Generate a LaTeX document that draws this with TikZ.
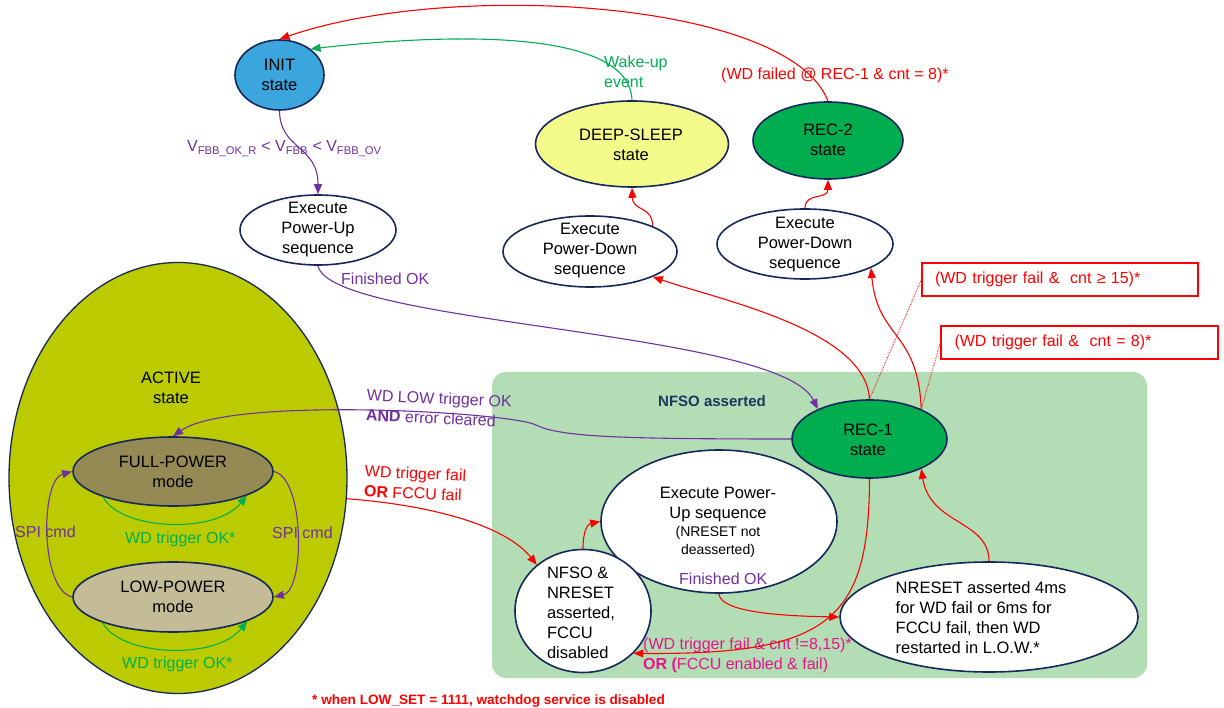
\documentclass[tikz,border=0pt]{standalone}
\usepackage{fontspec}
\setmainfont{Liberation Sans}
\usetikzlibrary{shapes.geometric,arrows.meta}
\definecolor{navyline}{RGB}{20,40,90}
\definecolor{initblue}{RGB}{58,166,221}
\definecolor{sleepyellow}{RGB}{243,250,137}
\definecolor{recgreen}{RGB}{0,173,79}
\definecolor{activeolive}{RGB}{187,203,0}
\definecolor{fullbrown}{RGB}{150,138,84}
\definecolor{lowbeige}{RGB}{196,188,151}
\definecolor{nfsogreen}{RGB}{179,222,181}
\definecolor{nfsotext}{RGB}{23,55,94}
\definecolor{wdpurple}{RGB}{112,48,160}
\definecolor{wdgreen}{RGB}{0,176,80}
\definecolor{wdred}{RGB}{255,0,0}
\definecolor{wdpink}{RGB}{230,20,140}
\begin{document}
\begin{tikzpicture}[x=1pt,y=-1pt,
  stbox/.style={ellipse,draw=navyline,line width=1.6pt},
  sttext/.style={align=center,font=\fontsize{16.5}{20}\selectfont},
  lbl/.style={align=left,font=\fontsize{16}{20}\selectfont},
  tr/.style={line width=1.1pt,-{Triangle[length=10pt,width=8pt]}},
  notebox/.style={draw=wdred,line width=1.3pt,fill=white,minimum height=33pt,inner xsep=13pt,text width=250pt,align=left,font=\fontsize{16}{20}\selectfont,text=wdred}]
  \tikzstyle{every node}+=[inner sep=0pt]
  \useasboundingbox (0,0) rectangle (1224,708);
  \node[fill=nfsogreen,rounded corners=14pt,minimum width=655pt,minimum height=306pt] (nfso) at (819.5,525) {};
  \node[font=\fontsize{15}{18}\selectfont\bfseries,text=nfsotext,anchor=base] (nfsolbl) at (712,407) {NFSO asserted};
  \node[stbox,line width=1.3pt,fill=activeolive,minimum width=338pt,minimum height=431pt] (active) at (178,478) {};
  \node[sttext] (activetxt) at (171,388) {ACTIVE\\state};
  \node[stbox,fill=fullbrown,minimum width=200pt,minimum height=69pt] (fp) at (173,471.5) {};
  \node[sttext] (fptxt) at (173,472) {FULL-POWER\\mode};
  \node[stbox,fill=lowbeige,minimum width=200pt,minimum height=70pt] (lp) at (173,597) {};
  \node[sttext] (lptxt) at (173,597) {LOW-POWER\\mode};
  \node[stbox,fill=initblue,minimum width=89pt,minimum height=70pt] (init) at (279.5,75) {};
  \node[sttext] (inittxt) at (279.5,75) {INIT\\state};
  \node[stbox,fill=white,minimum width=156pt,minimum height=70pt] (pu) at (318,230) {};
  \node[sttext] (putxt) at (318,230) {Execute\\Power-Up\\sequence};
  \node[stbox,fill=sleepyellow,minimum width=193pt,minimum height=86pt] (ds) at (632,144) {};
  \node[sttext] (dstxt) at (631,145) {DEEP-SLEEP\\state};
  \node[stbox,fill=recgreen,minimum width=150pt,minimum height=77pt] (rec2) at (828,140.5) {};
  \node[sttext] (rec2txt) at (828,140) {REC-2\\state};
  \node[stbox,fill=white,minimum width=174pt,minimum height=71pt] (pdl) at (590,251.5) {};
  \node[sttext] (pdltxt) at (590,251) {Execute\\Power-Down\\sequence};
  \node[stbox,fill=white,minimum width=176pt,minimum height=70pt] (pdr) at (805,244) {};
  \node[sttext] (pdrtxt) at (805,244.5) {Execute\\Power-Down\\sequence};
  \node[stbox,fill=recgreen,minimum width=155pt,minimum height=78pt] (rec1) at (869.5,439) {};
  \node[sttext] (rec1txt) at (868,440) {REC-1\\state};
  \node[stbox,fill=white,minimum width=236pt,minimum height=143pt] (bpu) at (719,521.5) {};
  \node[sttext] (bputxt) at (718,522) {Execute Power-\\Up sequence\\[-2pt]{\fontsize{14}{17}\selectfont (NRESET not}\\[-2pt]{\fontsize{14}{17}\selectfont deasserted)}};
  \node[stbox,fill=white,minimum width=136pt,minimum height=123pt] (nf) at (583,611) {};
  \node[sttext,align=left] (nftxt) at (581,613) {NFSO \&\\NRESET\\asserted,\\FCCU\\disabled};
  \node[stbox,fill=white,minimum width=298pt,minimum height=110pt] (nr) at (989,617) {};
  \node[sttext,align=left] (nrtxt) at (981,618) {NRESET asserted 4ms\\for WD fail or 6ms for\\FCCU fail, then WD\\restarted in L.O.W.*};
  \node[notebox,minimum width=276pt] (box1) at (1060,279.5) {(WD trigger fail \&~ cnt ≥ 15)*};
  \node[notebox,minimum width=277pt] (box2) at (1079.5,342.5) {(WD trigger fail \&~ cnt = 8)*};
  \node[lbl,text=wdpurple,anchor=base west] (vcond) at (187,152) {V\textsubscript{FBB\_OK\_R} < V\textsubscript{FBB} < V\textsubscript{FBB\_OV}};
  \node[lbl,text=wdpurple,anchor=base west] (finok1) at (341,285) {Finished OK};
  \node[lbl,text=wdgreen,anchor=north west] (wakeup) at (604,56) {Wake-up\\event};
  \node[lbl,text=wdred,anchor=base west] (rec2cond) at (721,80) {(WD failed @ REC-1 \& cnt = 8)*};
  \node[lbl,text=wdpurple,anchor=north west,rotate=-2.5] (lowok) at (367,389) {WD LOW trigger OK\\\textbf{AND} error cleared};
  \node[lbl,text=wdred,anchor=north west,rotate=-2.5] (wdfail) at (365,465) {WD trigger fail\\\textbf{OR} FCCU fail};
  \node[lbl,text=wdpurple,anchor=base west] (spil) at (15,537) {SPI cmd};
  \node[lbl,text=wdpurple,anchor=base west] (spir) at (272,538) {SPI cmd};
  \node[lbl,text=wdgreen,anchor=base west] (wdok1) at (125,543) {WD trigger OK*};
  \node[lbl,text=wdgreen,anchor=base west] (wdok2) at (122,668) {WD trigger OK*};
  \node[lbl,text=wdpurple,anchor=base west] (finok2) at (679,584) {Finished OK};
  \node[lbl,text=wdpink,anchor=north west] (othfail) at (643,638) {(WD trigger fail \& cnt !=8,15)*\\\textbf{OR (}FCCU enabled \& fail)};
  \node[font=\fontsize{13.6}{16}\selectfont\bfseries,text=wdred,anchor=base west] (footnote) at (312,704) {* when LOW\_SET = 1111, watchdog service is disabled};
  \draw[tr,wdred] (rec2.north) .. controls (790,0) and (450,-20) .. (init.north);
  \draw[tr,wdgreen] (ds.north) .. controls (630,35) and (480,30) .. (init.40);
  \draw[tr,wdpurple] (init.south) .. controls (280,150) and (318,145) .. (pu.north);
  \draw[tr,wdpurple] (pu.south) .. controls (330,325) and (780,330) .. (rec1.150);
  \draw[tr,wdred] (rec1.north) .. controls (866,330) and (720,300) .. (pdl.-22);
  \draw[tr,wdred] (rec1.30) .. controls (918,330) and (878,340) .. (pdr.-20);
  \draw[tr,wdred] (pdl.22) .. controls (652,205) and (633,212) .. (ds.south);
  \draw[tr,wdred] (pdr.north) .. controls (805,192) and (828,200) .. (rec2.south);
  \draw[tr,wdpurple] (rec1.west) .. controls (620,439) and (560,437) .. (536,425) .. controls (510,412) and (230,396) .. (fp.north);
  \draw[tr,wdpurple] (fp.east) .. controls (305,478) and (305,590) .. (lp.east);
  \draw[tr,wdpurple] (lp.west) .. controls (40,590) and (40,480) .. (fp.west);
  \draw[tr,wdgreen] (fp.200) .. controls (120,530) and (215,535) .. (fp.-18);
  \draw[tr,wdgreen] (lp.200) .. controls (120,656) and (215,661) .. (lp.-18);
  \draw[tr,wdred] (active.-7) .. controls (430,505) and (505,525) .. (nf.135);
  \draw[tr,wdred] (nf.north) .. controls (583,530) and (588,524) .. (bpu.west);
  \draw[tr,wdred] (bpu.south) .. controls (720,612) and (780,616) .. (nr.west);
  \draw[tr,wdred] (rec1.south) .. controls (869,620) and (830,655) .. (nf.-40);
  \draw[tr,wdred] (nr.north) .. controls (989,520) and (930,525) .. (rec1.-30);
  \draw[wdred,densely dotted,line width=0.8pt] (rec1.north) -- (box1.west);
  \draw[wdred,densely dotted,line width=0.8pt] (rec1.30) -- (box2.west);
\end{tikzpicture}
\end{document}
